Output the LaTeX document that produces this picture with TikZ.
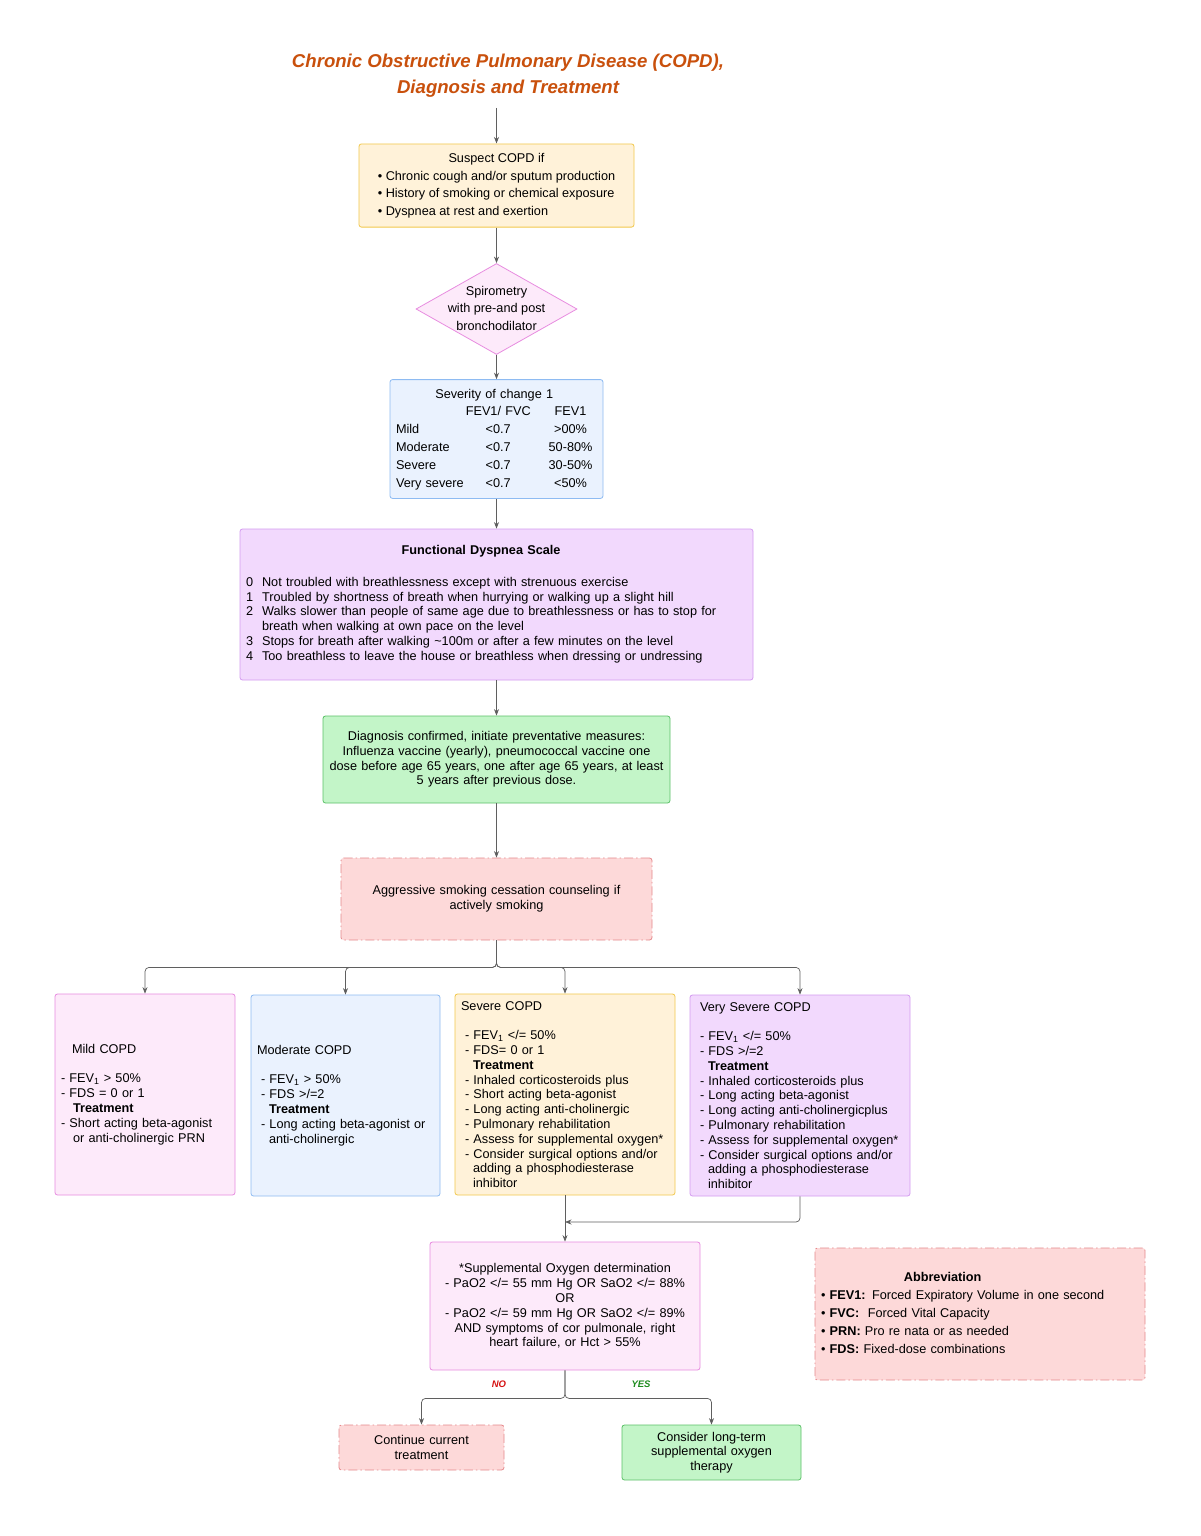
\documentclass[tikz,border=0pt]{standalone}
\usepackage{fontspec}
\setmainfont{Liberation Sans}
\usepackage{tikz}
\usetikzlibrary{shapes.geometric,arrows.meta}
\definecolor{titleorange}{RGB}{201,80,12}
\definecolor{lineg}{RGB}{95,95,95}
\definecolor{yelfill}{RGB}{255,242,217}
\definecolor{yeldraw}{RGB}{242,200,76}
\definecolor{pinkfill}{RGB}{253,234,250}
\definecolor{pinkdraw}{RGB}{232,140,224}
\definecolor{bluefill}{RGB}{234,242,254}
\definecolor{bluedraw}{RGB}{142,187,242}
\definecolor{purpfill}{RGB}{242,217,253}
\definecolor{purpdraw}{RGB}{212,156,240}
\definecolor{grnfill}{RGB}{195,245,200}
\definecolor{grndraw}{RGB}{92,193,104}
\definecolor{redfill}{RGB}{253,217,217}
\definecolor{reddraw}{RGB}{229,137,140}
\definecolor{nored}{RGB}{214,20,20}
\definecolor{yesgreen}{RGB}{30,140,30}

\begin{document}
\begin{tikzpicture}[x=1pt, y=-1pt,
		box/.style={draw, rounded corners=2.5pt, line width=0.8pt, inner sep=6pt, font=\fontsize{12.7}{14.8}\selectfont},
		roomy/.style={font=\fontsize{12.7}{17.8}\selectfont},
		yelbox/.style={box, fill=yelfill, draw=yeldraw},
		pinkbox/.style={box, fill=pinkfill, draw=pinkdraw},
		bluebox/.style={box, fill=bluefill, draw=bluedraw},
		purpbox/.style={box, fill=purpfill, draw=purpdraw},
		grnbox/.style={box, fill=grnfill, draw=grndraw},
		redbox/.style={box, fill=redfill, draw=reddraw, dash pattern=on 9pt off 3pt on 1.5pt off 3pt},
		conn/.style={draw=lineg, line width=0.7pt, rounded corners=4pt, -{Stealth[length=6.5pt,width=5pt]}},
		answer/.style={font=\fontsize{9.5}{11}\bfseries\itshape}
	]
		\fill[white] (0,0) rectangle (1200,1536);
		\useasboundingbox (0,0) rectangle (1200,1536);

		\node[align=center, text=titleorange, font=\fontsize{18.6}{26}\bfseries\itshape\selectfont] (title) at (508,76)
			{Chronic Obstructive Pulmonary Disease (COPD),\\Diagnosis and Treatment};
		\coordinate (start) at (496.5,108);

		\node[yelbox, roomy, minimum width=275, minimum height=83] (suspect) at (496.5,185.5)
			{\begin{tabular}{@{}l@{}}\multicolumn{1}{@{}c@{}}{Suspect COPD if}\\
			\textbullet\ Chronic cough and/or sputum production\\
			\textbullet\ History of smoking or chemical exposure\\
			\textbullet\ Dyspnea at rest and exertion\end{tabular}};

		\node[diamond, draw=pinkdraw, fill=pinkfill, line width=0.8pt, inner sep=0pt, minimum width=161, minimum height=91,
			font=\fontsize{12.7}{17.5}\selectfont] (spiro) at (496.5,309)
			{\makebox[0pt]{\begin{tabular}{@{}c@{}}Spirometry\\with pre-and post\\bronchodilator\end{tabular}}};

		\node[bluebox, roomy, text width=201, minimum height=114, align=left] (severity) at (496.5,439)
			{\begin{tabular}{@{}l@{\hspace{2pt}}c@{\hspace{18pt}}c@{}}
			\multicolumn{3}{@{}c@{}}{Severity of change 1}\\
			 & FEV1/ FVC & FEV1\\
			Mild & <0.7 & >00\%\\
			Moderate & <0.7 & 50-80\%\\
			Severe & <0.7 & 30-50\%\\
			Very severe & <0.7 & <50\%
			\end{tabular}};

		\node[purpbox, text width=501, minimum height=151, align=left] (dyspnea) at (496.5,604.5)
			{\begin{tabular}{@{}l@{\hspace{9pt}}l@{}}
			\multicolumn{2}{@{}c@{}}{\textbf{Functional Dyspnea Scale}}\\[17pt]
			0 & Not troubled with breathlessness except with strenuous exercise\\
			1 & Troubled by shortness of breath when hurrying or walking up a slight hill\\
			2 & Walks slower than people of same age due to breathlessness or has to stop for\\
			 & breath when walking at own pace on the level\\
			3 & Stops for breath after walking \textasciitilde100m or after a few minutes on the level\\
			4 & Too breathless to leave the house or breathless when dressing or undressing
			\end{tabular}};

		\node[grnbox, text width=335, minimum height=87, align=center] (diagnosis) at (496.5,759.5)
			{Diagnosis confirmed, initiate preventative measures:\\
			Influenza vaccine (yearly), pneumococcal vaccine one\\
			dose before age 65 years, one after age 65 years, at least\\
			5 years after previous dose.};

		\node[redbox, text width=299, minimum height=82, align=center] (smoking) at (496.5,899)
			{Aggressive smoking cessation counseling if\\actively smoking};

		\node[pinkbox, text width=168, minimum height=201, align=left] (mild) at (145,1094.5)
			{\hspace*{11pt}Mild COPD\\[14.8pt]
			- FEV\textsubscript{1} > 50\%\\
			- FDS = 0 or 1\\
			\hspace*{12pt}\textbf{Treatment}\\
			- Short acting beta-agonist\\
			\hspace*{12pt}or anti-cholinergic PRN};

		\node[bluebox, text width=177, minimum height=201, align=left] (moderate) at (345.5,1095.5)
			{Moderate COPD\\[14.8pt]
			\hspace*{4pt}- FEV\textsubscript{1} > 50\%\\
			\hspace*{4pt}- FDS >/=2\\
			\hspace*{12pt}\textbf{Treatment}\\
			\hspace*{4pt}- Long acting beta-agonist or\\
			\hspace*{12pt}anti-cholinergic};

		\node[yelbox, text width=208, minimum height=201, align=left] (severe) at (565,1094.5)
			{Severe COPD\\[14.8pt]
			\hspace*{4pt}- FEV\textsubscript{1} </= 50\%\\
			\hspace*{4pt}- FDS= 0 or 1\\
			\hspace*{12pt}\textbf{Treatment}\\
			\hspace*{4pt}- Inhaled corticosteroids plus\\
			\hspace*{4pt}- Short acting beta-agonist\\
			\hspace*{4pt}- Long acting anti-cholinergic\\
			\hspace*{4pt}- Pulmonary rehabilitation\\
			\hspace*{4pt}- Assess for supplemental oxygen*\\
			\hspace*{4pt}- Consider surgical options and/or\\
			\hspace*{12pt}adding a phosphodiesterase\\
			\hspace*{12pt}inhibitor};

		\node[purpbox, text width=208, minimum height=201, align=left] (vsevere) at (800,1095.5)
			{\hspace*{4pt}Very Severe COPD\\[14.8pt]
			\hspace*{4pt}- FEV\textsubscript{1} </= 50\%\\
			\hspace*{4pt}- FDS >/=2\\
			\hspace*{12pt}\textbf{Treatment}\\
			\hspace*{4pt}- Inhaled corticosteroids plus\\
			\hspace*{4pt}- Long acting beta-agonist\\
			\hspace*{4pt}- Long acting anti-cholinergicplus\\
			\hspace*{4pt}- Pulmonary rehabilitation\\
			\hspace*{4pt}- Assess for supplemental oxygen*\\
			\hspace*{4pt}- Consider surgical options and/or\\
			\hspace*{12pt}adding a phosphodiesterase\\
			\hspace*{12pt}inhibitor};

		\coordinate (join) at (565,1222);

		\node[pinkbox, text width=258, minimum height=128, align=center] (oxygen) at (565,1306)
			{*Supplemental Oxygen determination\\
			- PaO2 </= 55 mm Hg OR SaO2 </= 88\%\\
			OR\\
			- PaO2 </= 59 mm Hg OR SaO2 </= 89\%\\
			AND symptoms of cor pulmonale, right\\
			heart failure, or Hct > 55\%};

		\node[redbox, roomy, text width=318, minimum height=132, align=left] (abbrev) at (980,1314)
			{\begin{tabular}{@{}l@{}}
			\multicolumn{1}{@{}c@{}}{\textbf{Abbreviation}\hspace*{40pt}}\\
			\textbullet\ \textbf{FEV1:} Forced Expiratory Volume in one second\\
			\textbullet\ \textbf{FVC:}\ \ Forced Vital Capacity\\
			\textbullet\ \textbf{PRN:} Pro re nata or as needed\\
			\textbullet\ \textbf{FDS:} Fixed-dose combinations
			\end{tabular}};

		\node[redbox, text width=153, minimum height=45, align=center] (continue) at (421.5,1447.5)
			{Continue current\\treatment};
		\node[grnbox, text width=167, minimum height=55, align=center] (longterm) at (711.5,1452.5)
			{Consider long-term\\supplemental oxygen\\therapy};

		\node[answer, text=nored] (no) at (499,1384) {NO};
		\node[answer, text=yesgreen] (yes) at (641,1384) {YES};

		\draw[conn] (start) -- (suspect);
		\draw[conn] (suspect) -- (spiro);
		\draw[conn] (spiro) -- (severity);
		\draw[conn] (severity) -- (dyspnea);
		\draw[conn] (dyspnea) -- (diagnosis);
		\draw[conn] (diagnosis) -- (smoking);
		\draw[conn] (smoking.south) -- ++(0,27) -| (mild.north);
		\draw[conn] (smoking.south) -- ++(0,27) -| (moderate.north);
		\draw[conn] (smoking.south) -- ++(0,27) -| (severe.north);
		\draw[conn] (smoking.south) -- ++(0,27) -| (vsevere.north);
		\draw[conn] (severe.south) -- (oxygen.north);
		\draw[conn] (vsevere.south) |- (join);
		\draw[conn] (oxygen.south) -- ++(0,28) -| (continue.north);
		\draw[conn] (oxygen.south) -- ++(0,28) -| (longterm.north);
	\end{tikzpicture}
\end{document}
